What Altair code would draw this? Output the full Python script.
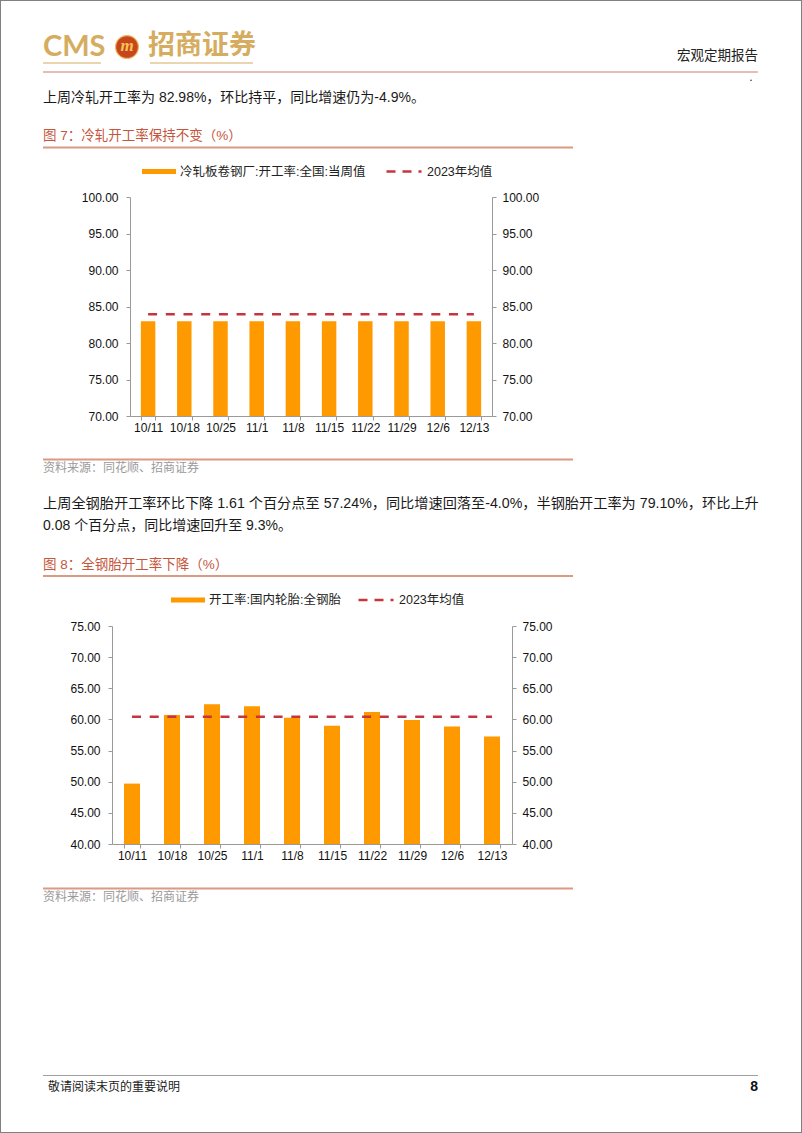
import altair as alt
import pandas as pd

# ---------------- data ----------------
dates = ["10/11", "10/18", "10/25", "11/1", "11/8", "11/15", "11/22", "11/29", "12/6", "12/13"]
cold_rate = [82.98, 82.98, 82.98, 82.98, 82.98, 82.98, 82.98, 82.98, 82.98, 82.98]
cold_avg = [83.93, 83.93, 83.93, 83.93, 83.93, 83.93, 83.93, 83.93, 83.93, 83.93]
tire_rate = [49.70, 60.70, 62.45, 62.10, 60.25, 59.00, 61.20, 59.90, 58.85, 57.24]
tire_avg = [60.45, 60.45, 60.45, 60.45, 60.45, 60.45, 60.45, 60.45, 60.45, 60.45]
cold_name = "冷轧板卷钢厂:开工率:全国:当周值"
tire_name = "开工率:国内轮胎:全钢胎"
avg_name = "2023年均值"
y1_ticks = [70, 75, 80, 85, 90, 95, 100]
y2_ticks = [40, 45, 50, 55, 60, 65, 70, 75]

W, H = 802, 1133
FONT = "Liberation Sans, Noto Sans CJK SC"
ORANGE = "#FF9900"
RED = "#C8343E"
TITLE = "#C4563C"
SALMON = "#DA9A84"
GOLD = "#D5AC60"
AXIS = "#9A9A9A"


def text(t, x, y, size=14, color="#1a1a1a", align="left", weight="normal", font=FONT, style="normal"):
    return alt.Chart(alt.Data(values=[{"t": t}])).mark_text(
        align=align, baseline="middle", fontSize=size, color=color, font=font,
        fontWeight=weight, fontStyle=style
    ).encode(x=alt.value(x), y=alt.value(y), text="t:N")


def hline(x1, x2, y, color, width):
    return alt.Chart(alt.Data(values=[{"k": 0}])).mark_rule(color=color, strokeWidth=width).encode(
        x=alt.value(x1), x2=alt.value(x2), y=alt.value(y)
    )


def panel(rates, avgs, name, xr, yr, ydom, yticks, leg_bar_x, leg_line_x, leg_y, x_off, yl_off, yr_off):
    df = pd.DataFrame({"date": dates, "v": rates, "s": [name] * len(dates)})
    da = pd.DataFrame({"date": dates, "a": avgs, "s": [avg_name] * len(dates)})

    def xs():
        return alt.Scale(domain=dates, range=xr, paddingInner=0.6, paddingOuter=0.3)

    def ys():
        return alt.Scale(domain=ydom, range=yr, nice=False, zero=False)

    bars = alt.Chart(df).mark_bar().encode(
        x=alt.X("date:N", scale=xs(), title=None,
                axis=alt.Axis(orient="bottom", offset=x_off, tickBand="extent", labelAngle=0,
                              labelPadding=2, tickSize=4)),
        y=alt.Y("v:Q", scale=ys(), title=None,
                axis=alt.Axis(orient="left", offset=yl_off, values=yticks, format=".2f",
                              tickSize=4, labelPadding=8)),
        y2=alt.Y2Datum(ydom[0]),
        color=alt.Color("s:N", scale=alt.Scale(domain=[name], range=[ORANGE]),
                        legend=alt.Legend(orient="none", legendX=leg_bar_x, legendY=leg_y, title=None,
                                          symbolType="M-1,-0.15H1V0.15H-1Z", symbolSize=1156,
                                          symbolStrokeWidth=0, padding=0, labelOffset=4, labelLimit=400,
                                          labelFont=FONT, labelFontSize=12.5, labelColor="#222222")),
    )
    line = alt.Chart(da).mark_line(strokeDash=[9, 8.7], strokeWidth=2.5, strokeCap="butt").encode(
        x=alt.X("date:N", scale=xs(), axis=None),
        y=alt.Y("a:Q", scale=ys(), title=None,
                axis=alt.Axis(orient="right", offset=yr_off, values=yticks, format=".2f",
                              tickSize=4, labelPadding=6)),
        color=alt.Color("s:N", scale=alt.Scale(domain=[avg_name], range=[RED]),
                        legend=alt.Legend(orient="none", legendX=leg_line_x, legendY=leg_y - 2, title=None,
                                          symbolType="stroke", symbolSize=1225, symbolDash=[9, 7],
                                          symbolStrokeWidth=2.5, padding=0, labelOffset=4, labelLimit=400,
                                          labelFont=FONT, labelFontSize=12.5, labelColor="#222222")),
    )
    return [bars, line]


layers = []

# header / logo
layers.append(text("CMS", 43, 47, size=29, color=GOLD, weight="bold", font="Lato, Liberation Sans"))
layers.append(alt.Chart(alt.Data(values=[{"k": 0}])).mark_circle(
    size=520, color="#C8461E", opacity=1, stroke="#E9B85A", strokeWidth=1.2
).encode(x=alt.value(127), y=alt.value(47)))
layers.append(text("m", 127, 46, size=17, color="#F3C552", align="center", weight="bold",
                   font="Liberation Serif", style="italic"))
layers.append(text("招商证券", 148, 46, size=27, color=GOLD, weight="bold", font="Noto Sans CJK SC"))
layers.append(hline(43, 101, 63, GOLD, 1.2))
layers.append(hline(150, 253, 63, GOLD, 1.2))
layers.append(text("宏观定期报告", 758, 56, size=13.5, color="#222222", align="right"))
layers.append(hline(43, 758, 72, "#D07A6C", 1.2))
layers.append(text(".", 751, 77, size=12, color="#222222", align="center"))

# paragraph 1 and figure 7
layers.append(text("上周冷轧开工率为 82.98%，环比持平，同比增速仍为-4.9%。", 43, 98, size=14))
layers.append(text("图 7：冷轧开工率保持不变（%）", 43, 136, size=13.5, color=TITLE))
layers.append(hline(43, 573, 147.5, SALMON, 2))
layers += panel(cold_rate, cold_avg, cold_name, [130, 492], [416, 197], [70, 100], y1_ticks,
                142, 385, 154.5, 416 - H, -130, -(W - 492))
layers.append(hline(43, 573, 459.5, SALMON, 2))
layers.append(text("资料来源：同花顺、招商证券", 43, 468, size=12, color="#9A9A9A"))

# paragraph 2 and figure 8
layers.append(text("上周全钢胎开工率环比下降 1.61 个百分点至 57.24%，同比增速回落至-4.0%，半钢胎开工率为 79.10%，环比上升",
                   43, 504, size=14.2))
layers.append(text("0.08 个百分点，同比增速回升至 9.3%。", 43, 526, size=14))
layers.append(text("图 8：全钢胎开工率下降（%）", 43, 565, size=13.5, color=TITLE))
layers.append(hline(43, 573, 576, SALMON, 2))
layers += panel(tire_rate, tire_avg, tire_name, [112, 512], [844, 626], [40, 75], y2_ticks,
                171, 357, 583, 844 - H, -112, -(W - 512))
layers.append(hline(43, 573, 888.5, SALMON, 2))
layers.append(text("资料来源：同花顺、招商证券", 43, 897, size=12, color="#9A9A9A"))

# footer
layers.append(hline(43, 758, 1075.5, "#A0A0A0", 1.2))
layers.append(text("敬请阅读末页的重要说明", 48, 1087, size=12, color="#222222"))
layers.append(text("8", 758, 1087, size=14, color="#111111", align="right", weight="bold"))

chart = alt.layer(*layers).resolve_scale(
    x="independent", y="independent", color="independent"
).resolve_axis(
    x="independent", y="independent"
).resolve_legend(
    color="independent"
).properties(
    width=W, height=H, padding=0,
    autosize=alt.AutoSizeParams(type="none")
).configure(
    background="white"
).configure_view(
    stroke="#808080", strokeWidth=2
).configure_axis(
    grid=False, domainColor=AXIS, tickColor=AXIS, labelFont="Liberation Sans",
    labelFontSize=12, labelColor="#111111", domainWidth=1, tickWidth=1
)

chart.save("out.html", embed_options={"renderer": "svg", "actions": False})
